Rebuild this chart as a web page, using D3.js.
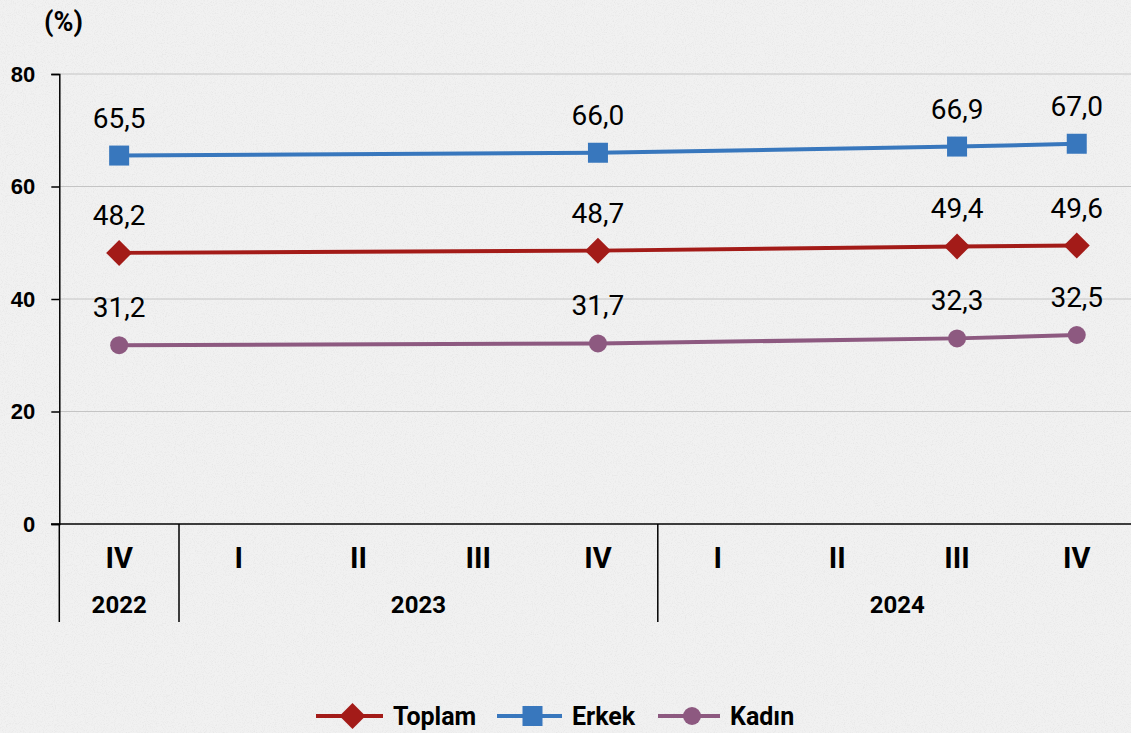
<!DOCTYPE html>
<html>
<head>
<meta charset="utf-8">
<script src="https://cdn.jsdelivr.net/npm/d3@7"></script>
<style>
  html, body { margin: 0; padding: 0; background: #efefef; }
  svg { display: block; font-family: Roboto, "Noto Sans", sans-serif; }
</style>
</head>
<body>
<div id="chart"></div>
<script>
// quarters on the x axis
const quarters = ["IV", "I", "II", "III", "IV", "I", "II", "III", "IV"];
const years = ["2022", "2023", "2024"];
const yearStart = [0, 1, 5];
const yearEnd = [1, 5, 9];
const pointIdx = [0, 4, 7, 8];

const toplam = [48.2, 48.6, 49.35, 49.5];
const toplamLabels = ["48,2", "48,7", "49,4", "49,6"];
const erkek = [65.5, 66.0, 67.1, 67.6];
const erkekLabels = ["65,5", "66,0", "66,9", "67,0"];
const kadin = [31.8, 32.1, 33.0, 33.6];
const kadinLabels = ["31,2", "31,7", "32,3", "32,5"];

const yTicks = [0, 20, 40, 60, 80];

function draw() {
    const width = 1131;
    const height = 733;

    const svg = d3.select("#chart")
        .append("svg")
        .attr("width", width)
        .attr("height", height);

    // paper texture
    const defs = svg.append("defs");
    const f = defs.append("filter").attr("id", "paper")
        .attr("x", 0).attr("y", 0).attr("width", "100%").attr("height", "100%");
    f.append("feTurbulence").attr("type", "fractalNoise")
        .attr("baseFrequency", 0.9).attr("numOctaves", 3).attr("seed", 4).attr("result", "n");
    f.append("feColorMatrix").attr("type", "matrix")
        .attr("values", "0 0 0 0 0.55  0 0 0 0 0.55  0 0 0 0 0.55  0 0 0 -1.6 0.85");

    svg.append("rect").attr("width", width).attr("height", height).attr("fill", "#f1f1f1");
    svg.append("rect").attr("width", width).attr("height", height)
        .attr("filter", "url(#paper)").attr("opacity", 0.35);

    const x = d3.scaleBand()
        .domain(d3.range(quarters.length))
        .range([59.3, 59.3 + 9 * 119.7]);

    const y = d3.scaleLinear()
        .domain([0, 80])
        .range([524, 74]);

    // gridlines
    svg.append("g")
        .selectAll("line")
        .data(yTicks.filter(d => d > 0))
        .enter().append("line")
        .attr("x1", x.range()[0]).attr("x2", x.range()[1])
        .attr("y1", d => y(d)).attr("y2", d => y(d))
        .attr("stroke", "#c4c4c4").attr("stroke-width", 1);

    // y axis
    const yAxis = svg.append("g")
        .attr("transform", `translate(${x.range()[0]},0)`)
        .call(d3.axisLeft(y).tickValues(yTicks).tickSize(8).tickPadding(16));
    yAxis.select(".domain").attr("stroke", "#000").attr("stroke-width", 1.5);
    yAxis.selectAll(".tick line").attr("stroke", "#000").attr("stroke-width", 1.5);
    yAxis.selectAll("text")
        .attr("fill", "#000")
        .style("font-size", "22px")
        .style("font-weight", "bold");

    svg.append("text")
        .attr("x", 44).attr("y", 31)
        .style("font-size", "27px").style("font-weight", "bold")
        .text("(%)");

    // x axis baseline
    svg.append("line")
        .attr("x1", 51).attr("x2", x.range()[1])
        .attr("y1", y(0)).attr("y2", y(0))
        .attr("stroke", "#000").attr("stroke-width", 1.5);

    // year separators
    const seps = [0].concat(yearEnd);
    svg.append("g").selectAll("line")
        .data(seps)
        .enter().append("line")
        .attr("x1", d => d < 9 ? x(d) : x.range()[1])
        .attr("x2", d => d < 9 ? x(d) : x.range()[1])
        .attr("y1", y(0)).attr("y2", 622)
        .attr("stroke", "#000").attr("stroke-width", 1.5);

    svg.append("g").selectAll("text")
        .data(quarters)
        .enter().append("text")
        .attr("x", (d, i) => x(i) + x.bandwidth() / 2)
        .attr("y", 568)
        .attr("text-anchor", "middle")
        .style("font-size", "29px").style("font-weight", "bold")
        .text(d => d);

    svg.append("g").selectAll("text")
        .data(years)
        .enter().append("text")
        .attr("x", (d, i) => (x(yearStart[i]) + (yearEnd[i] < 9 ? x(yearEnd[i]) : x.range()[1])) / 2)
        .attr("y", 613)
        .attr("text-anchor", "middle")
        .style("font-size", "24px").style("font-weight", "bold")
        .text(d => d);

    const series = [
        { name: "Toplam", values: toplam, labels: toplamLabels, color: "#a31b18", shape: "diamond" },
        { name: "Erkek", values: erkek, labels: erkekLabels, color: "#3877bd", shape: "square" },
        { name: "Kadın", values: kadin, labels: kadinLabels, color: "#8d5980", shape: "circle" }
    ];

    const cx = i => x(pointIdx[i]) + x.bandwidth() / 2;

    function marker(g, shape, color) {
        if (shape === "diamond") {
            g.append("path").attr("d", "M0,-13L13,0L0,13L-13,0Z").attr("fill", color);
        } else if (shape === "square") {
            g.append("rect").attr("x", -10).attr("y", -10).attr("width", 20).attr("height", 20).attr("fill", color);
        } else {
            g.append("circle").attr("r", 9).attr("fill", color);
        }
    }

    const line = d3.line()
        .x((d, i) => cx(i))
        .y(d => y(d));

    series.forEach(s => {
        const g = svg.append("g");
        g.append("path")
            .datum(s.values)
            .attr("d", line)
            .attr("fill", "none")
            .attr("stroke", s.color)
            .attr("stroke-width", 4);

        s.values.forEach((v, i) => {
            const m = g.append("g").attr("transform", `translate(${cx(i)},${y(v)})`);
            marker(m, s.shape, s.color);
        });

        g.selectAll("text.lbl")
            .data(s.values)
            .enter().append("text")
            .attr("class", "lbl")
            .attr("x", (d, i) => cx(i))
            .attr("y", d => y(d) - 28)
            .attr("text-anchor", "middle")
            .style("font-size", "28px")
            .text((d, i) => s.labels[i]);
    });

    // legend
    const legendX = [316, 497, 658];
    const lineW = [67, 65, 62];
    series.forEach((s, i) => {
        const g = svg.append("g").attr("transform", `translate(${legendX[i]},716)`);
        g.append("line").attr("x1", 0).attr("x2", lineW[i]).attr("y1", 0).attr("y2", 0)
            .attr("stroke", s.color).attr("stroke-width", 4);
        const m = g.append("g").attr("transform", `translate(${lineW[i] / 2 + 3},0)`);
        marker(m, s.shape, s.color);
        g.append("text")
            .attr("x", lineW[i] + 10).attr("y", 9)
            .style("font-size", "25px").style("font-weight", "bold")
            .text(s.name);
    });
}

draw();
</script>
</body>
</html>
